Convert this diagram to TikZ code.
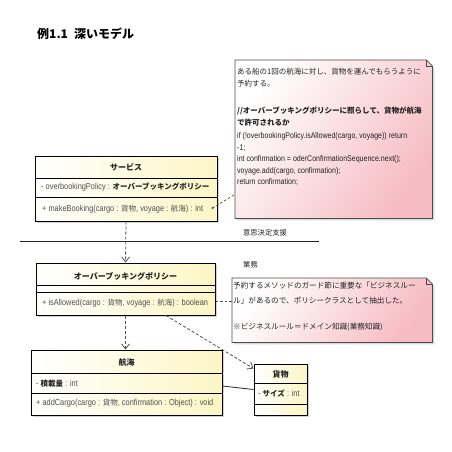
\documentclass[tikz,border=0pt]{standalone}
\usepackage{fontspec}
\setmainfont{Liberation Sans}
\newfontfamily\jp{Noto Sans CJK JP}
\newfontfamily\nar{Liberation Sans}[FakeStretch=0.85]
\usetikzlibrary{arrows.meta,shadows,positioning}
\definecolor{clsyellow}{RGB}{252,246,196}
\definecolor{notepink}{RGB}{246,188,194}
\definecolor{depgray}{RGB}{80,80,80}
\definecolor{txtgray}{RGB}{35,35,35}
\newcommand\jm[1]{{\jp\fontsize{7.5}{9}\selectfont #1}}
\newcommand\jmb[1]{{\jp\bfseries\fontsize{7.5}{9}\selectfont #1}}

\tikzset{
  classbox/.style={draw=black, line width=1pt, left color=white, right color=clsyellow,
    drop shadow={shadow xshift=2pt, shadow yshift=-2pt, fill=black!35}, inner sep=0pt},
  compart/.style={line width=0.8pt},
  clsname/.style={inner sep=0pt, text=txtgray, font=\jp\bfseries\fontsize{8}{9}\selectfont},
  member/.style={anchor=west, inner sep=0pt, text=txtgray!80, font=\nar\fontsize{8.7}{9}\selectfont},
  dep/.style={draw=depgray, line width=0.8pt, dash pattern=on 3pt off 2pt,
    -{Straight Barb[length=5pt,width=8pt]}},
  notelink/.style={draw=depgray, line width=0.7pt, dash pattern=on 2.5pt off 2pt},
  noteframe/.style={anchor=north west, inner sep=0pt},
  notefill/.style={draw=black!70, line width=0.8pt, top color=white, bottom color=notepink,
    shading angle=55, drop shadow={shadow xshift=2pt, shadow yshift=-2pt, fill=black!30}},
  notetext/.style={anchor=north west, inner sep=0pt, align=left, text=txtgray},
  layer/.style={inner sep=0pt, text=txtgray, font=\jp\fontsize{7.3}{9}\selectfont}
}

\begin{document}
\begin{tikzpicture}[x=1pt, y=-1pt]
    \useasboundingbox (0,0) rectangle (452,452);

    % Title
    \node[anchor=west, inner sep=0pt, font=\jp\bfseries\fontsize{12}{14}\selectfont] (title)
        at (37,34) {例1.1\hspace{6pt}深いモデル};

    % Notes
    \node[noteframe, minimum width=197pt, minimum height=158pt] (note1) at (235,60) {};
    \path[notefill] (note1.north west) -- ([xshift=-6pt]note1.north east)
        -- ([yshift=-6pt]note1.north east) -- (note1.south east) -- (note1.south west) -- cycle;
    \draw[draw=black!70, line width=0.7pt] ([xshift=-6pt]note1.north east)
        -- ([xshift=-6pt,yshift=-6pt]note1.north east) -- ([yshift=-6pt]note1.north east);
    \node[notetext, font=\jp\fontsize{7.5}{11.5}\selectfont] (note1-text)
        at ([xshift=2pt,yshift=-8.3pt]note1.north west) {%
        ある船の1回の航海に対し、貨物を運んでもらうように\\
        予約する。\\[16pt]
        {\bfseries //オーバーブッキングポリシーに照らして、貨物が航海}\\
        {\bfseries で許可されるか}\\[2pt]
        {\nar\fontsize{8.3}{11.5}\selectfont if (!overbookingPolicy.isAllowed(cargo, voyage)) return}\\
        {\nar\fontsize{8.3}{11.5}\selectfont -1;}\\
        {\nar\fontsize{8.3}{11.5}\selectfont int confirmation = oderConfirmationSequence.next();}\\
        {\nar\fontsize{8.3}{11.5}\selectfont voyage.add(cargo, confirmation);}\\
        {\nar\fontsize{8.3}{11.5}\selectfont return confirmation;}};

    \node[noteframe, minimum width=200pt, minimum height=64pt] (note2) at (232,278) {};
    \path[notefill] (note2.north west) -- ([xshift=-6pt]note2.north east)
        -- ([yshift=-6pt]note2.north east) -- (note2.south east) -- (note2.south west) -- cycle;
    \draw[draw=black!70, line width=0.7pt] ([xshift=-6pt]note2.north east)
        -- ([xshift=-6pt,yshift=-6pt]note2.north east) -- ([yshift=-6pt]note2.north east);
    \node[notetext, font=\jp\fontsize{7.6}{14.5}\selectfont] (note2-text)
        at ([xshift=1pt,yshift=-4.2pt]note2.north west) {%
        予約するメソッドのガード節に重要な「ビジネスルー\\
        ル」があるので、ポリシークラスとして抽出した。\\[12pt]
        ※ビジネスルール＝ドメイン知識(業務知識)};

    % Layers
    \draw[line width=0.8pt, black!85] (20,241) -- (319,241);
    \node[layer] (layer-top) at (265,233) {意思決定支援};
    \node[layer] (layer-bottom) at (250.5,265) {業務};

    % Service class
    \node[classbox, minimum width=182pt, minimum height=65pt] (service) at (126,188.5) {};
    \draw[compart] (service.west |- 0,178) -- (service.east |- 0,178);
    \draw[compart] (service.west |- 0,197) -- (service.east |- 0,197);
    \node[clsname] (service-name) at (126,167) {サービス};
    \node[member] (service-attr) at (41,187.5)
        {- overbookingPolicy : {\color{txtgray}\jmb{オーバーブッキングポリシー}}};
    \node[member] (service-op) at (42,209)
        {+ makeBooking(cargo : \jm{貨物}, voyage : \jm{航海}) : int};

    % Policy class
    \node[classbox, minimum width=179pt, minimum height=52pt] (policy) at (125.5,289) {};
    \draw[compart] (policy.west |- 0,285) -- (policy.east |- 0,285);
    \draw[compart] (policy.west |- 0,292) -- (policy.east |- 0,292);
    \node[clsname] (policy-name) at (125.5,276) {オーバーブッキングポリシー};
    \node[member] (policy-op) at (42,303)
        {+ isAllowed(cargo : \jm{貨物}, voyage : \jm{航海}) : boolean};

    % Voyage class
    \node[classbox, minimum width=191pt, minimum height=65pt] (voyage) at (126.5,382.5) {};
    \draw[compart] (voyage.west |- 0,373) -- (voyage.east |- 0,373);
    \draw[compart] (voyage.west |- 0,393) -- (voyage.east |- 0,393);
    \node[clsname] (voyage-name) at (126.5,362) {航海};
    \node[member] (voyage-attr) at (36,384) {- {\color{txtgray}\jmb{積載量}} : int};
    \node[member] (voyage-op) at (36,403)
        {+ addCargo(cargo : \jm{貨物}, confirmation : Object) : void};

    % Cargo class
    \node[classbox, minimum width=53pt, minimum height=51pt] (cargo) at (280.5,389.5) {};
    \draw[compart] (cargo.west |- 0,383) -- (cargo.east |- 0,383);
    \draw[compart] (cargo.west |- 0,404) -- (cargo.east |- 0,404);
    \node[clsname] (cargo-name) at (280.5,374) {貨物};
    \node[member] (cargo-attr) at (258,394) {- {\color{txtgray}\jmb{サイズ}} : int};

    % Dependencies
    \draw[dep] (service.south) -- (policy.north);
    \draw[dep] (policy.south) -- (policy.south |- voyage.north);
    \draw[dep] ([xshift=40.5pt]policy.south) -- ([yshift=-5pt]cargo.north west);
    \draw[line width=0.8pt, black!85] ([yshift=-3.5pt]voyage.east) -- (cargo.west);

    % Note links
    \coordinate (service-dot) at ([xshift=-5pt,yshift=-19.5pt]service.east);
    \coordinate (note1-link) at ([yshift=24pt]note1.south west);
    \fill[depgray] (service-dot) circle (1.2pt);
    \draw[notelink] (service-dot) -- (note1-link);
    \draw[notelink] ([yshift=-12pt]policy.east) -- ([yshift=-12pt]policy.east -| note2.west);
\end{tikzpicture}
\end{document}
